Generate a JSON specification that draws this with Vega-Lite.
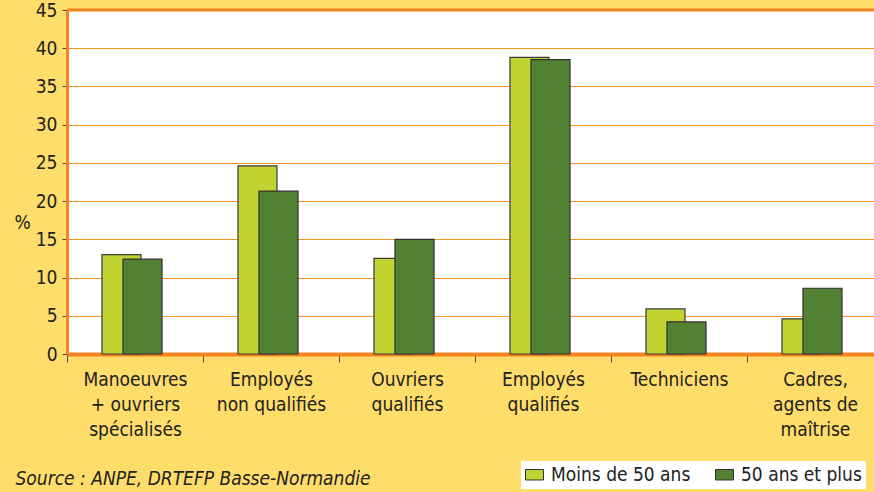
{
  "$schema": "https://vega.github.io/schema/vega-lite/v6.json",
  "width": 807,
  "height": 344,
  "autosize": {"type": "none"},
  "padding": {"left": 67, "top": 10, "right": 0, "bottom": 138},
  "background": "#FEDD6A",
  "view": {"fill": "#FFFFFF", "stroke": null},
  "config": {
    "font": "Liberation Sans Narrow, DejaVu Sans Condensed, sans-serif",
    "axisY": {
      "values": [0, 5, 10, 15, 20, 25, 30, 35, 40, 45],
      "labelOverlap": false,
      "domainColor": "#F58220", "domainWidth": 3,
      "tickColor": "#444444", "tickSize": 5, "tickWidth": 1,
      "labelFontSize": 19, "labelColor": "#222222", "labelPadding": 5,
      "grid": true, "gridColor": "#F7931E", "gridWidth": 1,
      "titleAngle": 0, "titleFontSize": 19, "titleFontWeight": "normal", "titleColor": "#222222",
      "titleX": -45, "titleY": 212, "titleAlign": "center", "titleBaseline": "middle"
    }
  },
  "data": {
    "values": [
      {"cat": "Manoeuvres|+ ouvriers|spécialisés", "grp": "Moins de 50 ans", "v": 13.0},
      {"cat": "Manoeuvres|+ ouvriers|spécialisés", "grp": "50 ans et plus", "v": 12.4},
      {"cat": "Employés|non qualifiés", "grp": "Moins de 50 ans", "v": 24.6},
      {"cat": "Employés|non qualifiés", "grp": "50 ans et plus", "v": 21.3},
      {"cat": "Ouvriers|qualifiés", "grp": "Moins de 50 ans", "v": 12.5},
      {"cat": "Ouvriers|qualifiés", "grp": "50 ans et plus", "v": 15.0},
      {"cat": "Employés|qualifiés", "grp": "Moins de 50 ans", "v": 38.8},
      {"cat": "Employés|qualifiés", "grp": "50 ans et plus", "v": 38.5},
      {"cat": "Techniciens", "grp": "Moins de 50 ans", "v": 5.9},
      {"cat": "Techniciens", "grp": "50 ans et plus", "v": 4.2},
      {"cat": "Cadres,|agents de|maîtrise", "grp": "Moins de 50 ans", "v": 4.6},
      {"cat": "Cadres,|agents de|maîtrise", "grp": "50 ans et plus", "v": 8.6}
    ]
  },
  "layer": [
    {
      "transform": [{"filter": "datum.grp == 'Moins de 50 ans'"}],
      "mark": {"type": "bar", "width": 39, "xOffset": -13.5, "stroke": "#3a3a3a", "strokeWidth": 1.2},
      "encoding": {
        "x": {
          "field": "cat", "type": "nominal", "sort": null,
          "scale": {"paddingInner": 0, "paddingOuter": 0, "range": [0, 816]},
          "axis": {
            "orient": "bottom",
            "domainColor": "#F58220", "domainWidth": 4,
            "ticks": true, "tickBand": "extent", "tickColor": "#444444", "tickSize": 8, "tickWidth": 1,
            "labelAngle": 0, "labelExpr": "split(datum.label, '|')",
            "labelLineHeight": 25, "labelPadding": 8, "labelFontSize": 19, "labelColor": "#222222",
            "labelBaseline": "top",
            "title": "Source : ANPE, DRTEFP Basse-Normandie",
            "titleFontStyle": "italic", "titleFontWeight": "normal", "titleFontSize": 19, "titleColor": "#222222",
            "titleX": -52, "titleY": 130, "titleAlign": "left", "titleBaseline": "alphabetic", "titleAnchor": "start",
            "grid": false
          }
        },
        "y": {
          "field": "v", "type": "quantitative",
          "scale": {"domain": [0, 45], "nice": false},
          "axis": {"title": "%", "values": [0, 5, 10, 15, 20, 25, 30, 35, 40, 45], "labelOverlap": false}
        },
        "color": {
          "field": "grp", "type": "nominal",
          "scale": {"domain": ["Moins de 50 ans", "50 ans et plus"], "range": ["#C0D331", "#548235"]},
          "legend": {
            "orient": "none", "legendX": 454, "legendY": 451,
            "direction": "horizontal", "title": null,
            "fillColor": "#FFFFFF", "padding": 4,
            "symbolType": "M-1,-0.58H1V0.58H-1Z", "symbolSize": 324,
            "symbolStrokeColor": "#333333", "symbolStrokeWidth": 1,
            "symbolOpacity": 1,
            "labelFontSize": 19, "labelColor": "#222222", "labelOffset": 7,
            "columnPadding": 22
          }
        }
      }
    },
    {
      "transform": [{"filter": "datum.grp == '50 ans et plus'"}],
      "mark": {"type": "bar", "width": 39, "xOffset": 7.5, "stroke": "#2f2f2f", "strokeWidth": 1.2},
      "encoding": {
        "x": {"field": "cat", "type": "nominal", "sort": null},
        "y": {"field": "v", "type": "quantitative", "axis": {"title": "%", "values": [0, 5, 10, 15, 20, 25, 30, 35, 40, 45], "labelOverlap": false}},
        "color": {"field": "grp", "type": "nominal"}
      }
    },
    {
      "data": {"values": [{"v": 45}]},
      "mark": {"type": "rule", "color": "#F58220", "strokeWidth": 3},
      "encoding": {"y": {"field": "v", "type": "quantitative", "axis": {"title": "%", "values": [0, 5, 10, 15, 20, 25, 30, 35, 40, 45], "labelOverlap": false}}}
    }
  ]
}
